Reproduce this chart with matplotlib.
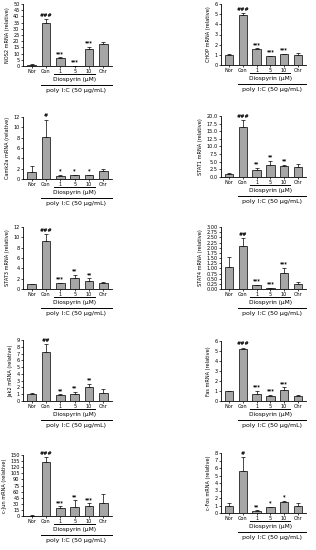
import numpy as np
import matplotlib
matplotlib.use("Agg")
import matplotlib.pyplot as plt
import matplotlib.transforms as mtransforms

groups = ["Nor", "Con", "1", "5", "10", "Chr"]

genes = ["NOS2", "CHOP", "Camk2a", "STAT1", "STAT3", "STAT4", "Jak2", "Fas", "c-Jun", "c-Fos"]

nos2 = [1.0, 35.0, 6.5, 0.3, 13.5, 17.5]
nos2_err = [0.3, 3.0, 0.5, 0.1, 2.0, 2.0]
chop = [1.0, 4.9, 1.55, 0.85, 1.05, 1.0]
chop_err = [0.05, 0.2, 0.08, 0.05, 0.08, 0.15]
camk2a = [1.3, 8.2, 0.6, 0.7, 0.7, 1.6]
camk2a_err = [1.2, 3.3, 0.2, 0.1, 0.15, 0.4]
stat1 = [1.0, 16.3, 2.2, 4.0, 3.5, 3.3]
stat1_err = [0.3, 2.3, 0.8, 1.4, 0.5, 1.0]
stat3 = [1.0, 9.3, 1.1, 2.1, 1.5, 1.2]
stat3_err = [0.05, 1.3, 0.1, 0.7, 0.6, 0.15]
stat4 = [1.08, 2.08, 0.18, 0.05, 0.78, 0.22]
stat4_err = [0.47, 0.37, 0.03, 0.02, 0.25, 0.12]
jak2 = [1.0, 7.3, 0.85, 1.1, 2.0, 1.2]
jak2_err = [0.2, 1.1, 0.2, 0.3, 0.55, 0.5]
fas = [1.0, 5.2, 0.75, 0.55, 1.1, 0.55]
fas_err = [0.05, 0.15, 0.3, 0.08, 0.3, 0.05]
cjun = [1.0, 133.0, 19.0, 22.0, 24.0, 32.0]
cjun_err = [0.5, 12.0, 5.0, 17.0, 8.0, 22.0]
cfos = [1.0, 5.6, 0.3, 0.75, 1.5, 0.9]
cfos_err = [0.3, 1.9, 0.08, 0.1, 0.15, 0.45]

values = [nos2, chop, camk2a, stat1, stat3, stat4, jak2, fas, cjun, cfos]
errors = [nos2_err, chop_err, camk2a_err, stat1_err, stat3_err, stat4_err, jak2_err, fas_err, cjun_err, cfos_err]

# significance marks for Con, 1, 5, 10
marks = [
    ["###", "***", "***", "***"],
    ["###", "***", "***", "***"],
    ["#", "*", "*", "*"],
    ["###", "**", "**", "**"],
    ["###", "***", "**", "**"],
    ["##", "***", "***", "***"],
    ["##", "**", "**", "**"],
    ["###", "***", "***", "***"],
    ["###", "***", "**", "***"],
    ["#", "**", "*", "*"],
]

ymax = [50, 6, 12, 20, 12, 3, 9, 6, 150, 8]
ystep = [5, 1, 2, 2.5, 2, 0.25, 1, 1, 15, 1]
yfmt = ["%d", "%d", "%d", "%.1f", "%d", "%.2f", "%d", "%d", "%d", "%d"]

W, H = 316, 550
fig = plt.figure(figsize=(W / 100, H / 100), dpi=100)

# axes boxes in pixels: left, top, right, bottom
left_x = (23, 112)
right_x = (221, 306)
rows_left = [(4, 66), (117, 179), (227, 289), (340, 401), (455, 516)]
rows_right = [(4, 65), (116, 177), (227, 289), (341, 401), (453, 513)]

bar_color = "#a6a6a6"
fs = 3.6

for i, gene in enumerate(genes):
    r = i // 2
    if i % 2 == 0:
        x0, x1 = left_x
        y0, y1 = rows_left[r]
    else:
        x0, x1 = right_x
        y0, y1 = rows_right[r]
    ax = fig.add_axes([x0 / W, 1 - y1 / H, (x1 - x0) / W, (y1 - y0) / H])
    x = np.arange(len(groups))
    v = np.array(values[i])
    e = np.array(errors[i])
    ax.bar(x, v, width=0.62, color=bar_color, edgecolor="black", linewidth=0.5, zorder=2)
    ax.errorbar(x, v, yerr=[np.zeros_like(e), e], fmt="none", ecolor="black",
                elinewidth=0.5, capsize=1.5, capthick=0.5, zorder=1)
    for j, m in enumerate(marks[i]):
        ax.text(x[j + 1], v[j + 1] + e[j + 1] + ymax[i] * 0.02, m, ha="center", va="bottom",
                fontsize=fs, fontweight="bold")
    ax.set_xlim(-0.6, 5.6)
    ax.set_ylim(0, ymax[i])
    ticks = np.arange(0, ymax[i] + ystep[i] / 2, ystep[i])
    ax.set_yticks(ticks)
    ax.set_yticklabels([yfmt[i] % t for t in ticks])
    ax.set_xticks(x)
    ax.set_xticklabels(groups)
    ax.tick_params(labelsize=fs, length=1.5, width=0.5, pad=1)
    for s in ["top", "right"]:
        ax.spines[s].set_visible(False)
    for s in ["left", "bottom"]:
        ax.spines[s].set_linewidth(0.6)
    label = gene + " mRNA (relative)"
    ax.set_ylabel(label, fontsize=fs, labelpad=2)

    trans = mtransforms.blended_transform_factory(ax.transData, ax.transAxes)
    ax.plot([1.55, 4.45], [-0.13, -0.13], color="black", lw=0.7, transform=trans, clip_on=False)
    ax.text(3.0, -0.22, "Diospyrin (\u03bcM)", ha="center", va="center", fontsize=4.2,
            transform=trans)
    ax.plot([0.65, 5.6], [-0.31, -0.31], color="black", lw=0.7, transform=trans, clip_on=False)
    ax.text(3.1, -0.40, "poly I:C (50 \u03bcg/mL)", ha="center", va="center", fontsize=4.5,
            transform=trans)

fig.savefig("out.png", dpi=100)
